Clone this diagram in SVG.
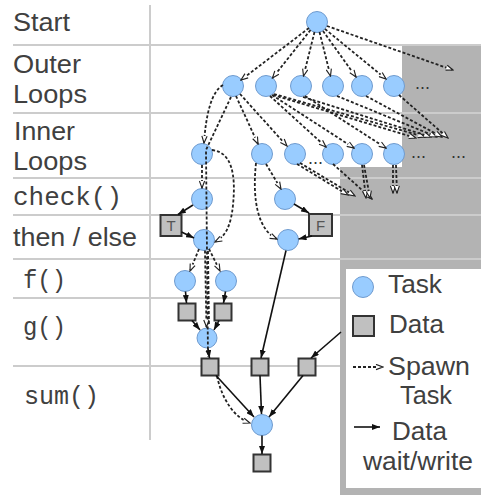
<svg xmlns="http://www.w3.org/2000/svg" width="481" height="495" viewBox="0 0 481 495">
<style>
.lbl{font-family:"Liberation Sans",Arial,sans-serif;font-size:25px;fill:#404040}
.mono{font-family:"Liberation Mono","Courier New",monospace;font-size:25px;fill:#404040}
.dots{font-family:"Liberation Sans",Arial,sans-serif;font-size:18px;fill:#333}
.tf{font-family:"Liberation Sans",Arial,sans-serif;font-size:15px;fill:#555;text-anchor:middle}
.grid{stroke:#cccccc;stroke-width:2}
.task{fill:#99ccff;stroke:#6f9bcf;stroke-width:1}
.data{fill:#c0c0c0;stroke:#333;stroke-width:2}
.sp{fill:none;stroke:#222;stroke-width:1.8;stroke-dasharray:3 2;marker-end:url(#sp)}
.spn{fill:none;stroke:#222;stroke-width:1.8;stroke-dasharray:3 2}
.da{fill:none;stroke:#111;stroke-width:1.6;marker-end:url(#da)}
</style>
<defs>
<marker id="sp" viewBox="0 0 10 8" refX="9" refY="4" markerWidth="9" markerHeight="7" orient="auto" markerUnits="userSpaceOnUse"><path d="M1,1 L9,4 L1,7" fill="#fff" stroke="#222" stroke-width="1.3"/></marker>
<marker id="da" viewBox="0 0 8 6" refX="8" refY="3" markerWidth="8" markerHeight="6" orient="auto" markerUnits="userSpaceOnUse"><path d="M0,0 L8,3 L0,6 z" fill="#111"/></marker>
</defs>
<rect width="481" height="495" fill="#fff"/>
<polygon points="402,45 481,45 481,495 340,495 340,167 402,167" fill="#b3b3b3"/>
<g id="grid">
<line class="grid" x1="150" y1="5" x2="150" y2="440"/>
<line class="grid" x1="13" y1="45" x2="481" y2="45"/>
<line class="grid" x1="13" y1="113" x2="481" y2="113"/>
<line class="grid" x1="13" y1="178" x2="481" y2="178"/>
<line class="grid" x1="13" y1="215" x2="481" y2="215"/>
<line class="grid" x1="13" y1="259" x2="481" y2="259"/>
<line class="grid" x1="13" y1="298" x2="340" y2="298"/>
<line class="grid" x1="13" y1="366" x2="340" y2="366"/>
</g>
<g id="row-labels">
<text class="lbl" x="13" y="31" textLength="57" lengthAdjust="spacingAndGlyphs">Start</text>
<text class="lbl" x="13" y="73" textLength="68" lengthAdjust="spacingAndGlyphs">Outer</text>
<text class="lbl" x="13" y="103" textLength="74" lengthAdjust="spacingAndGlyphs">Loops</text>
<text class="lbl" x="14" y="140" textLength="61" lengthAdjust="spacingAndGlyphs">Inner</text>
<text class="lbl" x="13" y="170" textLength="74" lengthAdjust="spacingAndGlyphs">Loops</text>
<text class="mono" x="13" y="205" textLength="109" lengthAdjust="spacingAndGlyphs">check()</text>
<text class="lbl" x="13" y="246" textLength="124" lengthAdjust="spacingAndGlyphs">then / else</text>
<text class="mono" x="23" y="288" textLength="43" lengthAdjust="spacingAndGlyphs">f()</text>
<text class="mono" x="23" y="335" textLength="43" lengthAdjust="spacingAndGlyphs">g()</text>
<text class="mono" x="24" y="404" textLength="75" lengthAdjust="spacingAndGlyphs">sum()</text>
</g>
<g id="legend">
<rect x="346" y="269" width="135" height="219" fill="#fff"/>
<circle class="task" cx="363" cy="287" r="10.5"/>
<text class="lbl" x="388" y="293" textLength="54" lengthAdjust="spacingAndGlyphs">Task</text>
<rect class="data" x="353" y="316" width="21" height="20"/>
<text class="lbl" x="389" y="333" textLength="55" lengthAdjust="spacingAndGlyphs">Data</text>
<path class="sp" d="M353,367 L383,367"/>
<text class="lbl" x="388" y="375" textLength="82" lengthAdjust="spacingAndGlyphs">Spawn</text>
<text class="lbl" x="400" y="404" textLength="52" lengthAdjust="spacingAndGlyphs">Task</text>
<path class="da" d="M354,427 L380,427"/>
<text class="lbl" x="392" y="440" textLength="55" lengthAdjust="spacingAndGlyphs">Data</text>
<text class="lbl" x="363" y="470" textLength="110" lengthAdjust="spacingAndGlyphs">wait/write</text>
</g>
<g id="nodes">
<g id="start"><circle class="task" cx="317" cy="22" r="10.5"/></g>
<g id="outer1"><circle class="task" cx="233" cy="86" r="10.5"/></g>
<g id="outer2"><circle class="task" cx="266" cy="86" r="10.5"/></g>
<g id="outer3"><circle class="task" cx="301" cy="86" r="10.5"/></g>
<g id="outer4"><circle class="task" cx="333" cy="86" r="10.5"/></g>
<g id="outer5"><circle class="task" cx="362" cy="86" r="10.5"/></g>
<g id="outer6"><circle class="task" cx="394" cy="86" r="10.5"/></g>
<g id="inner1"><circle class="task" cx="202" cy="154" r="10.5"/></g>
<g id="inner2"><circle class="task" cx="262" cy="154" r="10.5"/></g>
<g id="inner3"><circle class="task" cx="295" cy="154" r="10.5"/></g>
<g id="inner4"><circle class="task" cx="333" cy="154" r="10.5"/></g>
<g id="inner5"><circle class="task" cx="362" cy="154" r="10.5"/></g>
<g id="inner6"><circle class="task" cx="394" cy="154" r="10.5"/></g>
<g id="check1"><circle class="task" cx="202" cy="199" r="10.5"/></g>
<g id="check2"><circle class="task" cx="285" cy="199" r="10.5"/></g>
<g id="dataT"><rect class="data" x="160.5" y="215" width="21" height="21"/><text class="tf" x="171" y="231">T</text></g>
<g id="dataF"><rect class="data" x="309" y="214" width="23" height="22"/><text class="tf" x="320.5" y="231">F</text></g>
<g id="then1"><circle class="task" cx="204" cy="240" r="10.5"/></g>
<g id="then2"><circle class="task" cx="288" cy="240" r="10.5"/></g>
<g id="f1"><circle class="task" cx="185" cy="281" r="10.5"/></g>
<g id="f2"><circle class="task" cx="226" cy="281" r="10.5"/></g>
<g id="fdata1"><rect class="data" x="178.5" y="303.5" width="17" height="17"/></g>
<g id="fdata2"><rect class="data" x="214.5" y="303.5" width="17" height="17"/></g>
<g id="g1"><circle class="task" cx="207" cy="338" r="10"/></g>
<g id="sdata1"><rect class="data" x="201.5" y="358.5" width="17" height="17"/></g>
<g id="sdata2"><rect class="data" x="251.5" y="358.5" width="17" height="17"/></g>
<g id="sdata3"><rect class="data" x="298.5" y="358.5" width="17" height="17"/></g>
<g id="sum"><circle class="task" cx="262" cy="425" r="10.5"/></g>
<g id="result"><rect class="data" x="253.5" y="454.5" width="17" height="17"/></g>
<text class="dots" x="415" y="89">...</text>
<text class="dots" x="308" y="164">...</text>
<text class="dots" x="411" y="158">...</text>
<text class="dots" x="451" y="158">...</text>
</g>
<g id="connectors">
<path class="sp" d="M309,28 L241,80"/>
<path class="sp" d="M310.5,30 L272.5,78"/>
<path class="sp" d="M314.5,32 L303.5,76"/>
<path class="sp" d="M319.5,32 L330.5,76"/>
<path class="sp" d="M323,31 L356,77"/>
<path class="sp" d="M325,29 L386,79"/>
<path class="sp" d="M327,26 L453,70"/>
<path class="sp" d="M223,85 C211,92 206,115 204,143"/>
<path class="spn" d="M231,97 L206,150 L208,357"/>
<path class="sp" d="M236,96 L258,144"/>
<path class="sp" d="M240,94 L287,146"/>
<path class="sp" d="M270,96 L326,147"/>
<path class="sp" d="M272,95 L354,148"/>
<path class="sp" d="M305,96 L386,148"/>
<path class="sp" d="M273,95 L416,138"/>
<path class="sp" d="M274,94 L425,137"/>
<path class="sp" d="M303,97 L431,137"/>
<path class="sp" d="M337,96 L437,137"/>
<path class="sp" d="M366,96 L442,137"/>
<path class="sp" d="M399,95 L448,138"/>
<path class="sp" d="M297,164 L348,195"/>
<path class="sp" d="M300,163 L355,196"/>
<path class="sp" d="M333,164 L372,199"/>
<path class="sp" d="M362,165 L366,198"/>
<path class="sp" d="M364,165 L370,198"/>
<path class="sp" d="M393,165 L393,193"/>
<path class="sp" d="M396,165 L397,193"/>
<path class="sp" d="M202,165 L202,188"/>
<path class="sp" d="M212,150 C232,152 236,175 233,205 C231,225 226,236 215,242"/>
<path class="sp" d="M266,164 L281,189"/>
<path class="sp" d="M256,163 C252,200 258,230 277,239"/>
<path class="sp" d="M199,249 L190,271"/>
<path class="sp" d="M209,249 L220,271"/>
<path class="sp" d="M205,250.5 L206.5,327"/>
<path class="spn" d="M208,251 L209,326"/>
<path class="sp" d="M217,376 C222,400 235,418 250,423"/>
<path class="da" d="M193,205 L178,214.5"/>
<path class="da" d="M181.5,232 L194,238"/>
<path class="da" d="M294,204 L309,213"/>
<path class="da" d="M312,236 L298.5,239"/>
<path class="da" d="M286,250.5 L261,358"/>
<path class="da" d="M185.5,291.5 L186.5,303"/>
<path class="da" d="M225.5,291.5 L223.5,303"/>
<path class="da" d="M192,320.5 L200,330"/>
<path class="da" d="M219,320.5 L214,330"/>
<path class="da" d="M208,348.5 L209.5,358"/>
<path class="da" d="M341,332 L311,358"/>
<path class="da" d="M216,375.5 L254,417"/>
<path class="da" d="M260,375.5 L261.5,414"/>
<path class="da" d="M303,375.5 L269,417"/>
<path class="da" d="M262,435.5 L262,454"/>
</g>
</svg>
